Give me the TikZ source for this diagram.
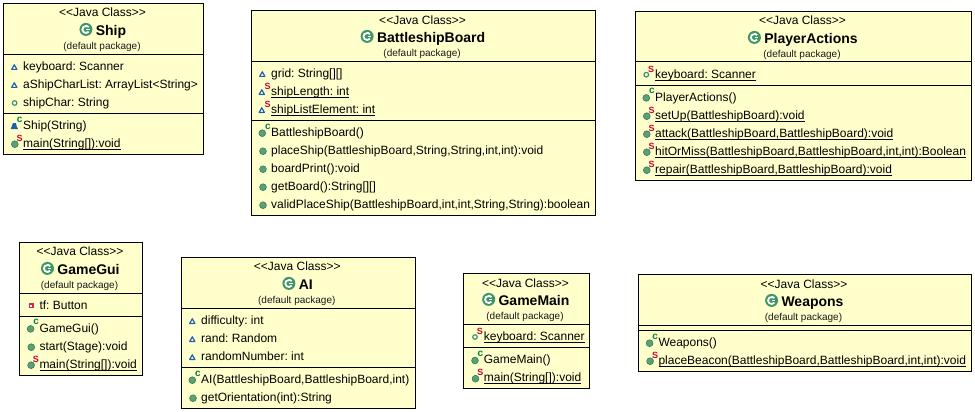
\documentclass[tikz,border=0pt]{standalone}
\usepackage{fontspec}
\setmainfont{Liberation Sans}
\frenchspacing
\definecolor{boxfill}{HTML}{FFFFCC}
\definecolor{ballfill}{HTML}{5E9F78}
\definecolor{balledge}{HTML}{2F7F55}
\definecolor{triblue}{HTML}{1F62A8}
\definecolor{iconred}{HTML}{CC0033}
\definecolor{icongreen}{HTML}{008040}
\definecolor{classgreen}{HTML}{3F9468}
\newcommand\ulin[1]{\setbox0\hbox{#1}\rlap{\rule[-2.4pt]{\wd0}{0.9pt}}\box0}
\tikzset{
  x=1pt,y=-1pt,
  umlbox/.style={draw=black,fill=boxfill,line width=1.1pt},
  umlsep/.style={draw=black,line width=1pt},
  rowtext/.style={anchor=base west,inner sep=0pt,font=\fontsize{12}{14}\selectfont,text=black},
  stereo/.style={anchor=base,inner sep=0pt,font=\fontsize{12}{14}\selectfont,text=black},
  classname/.style={anchor=base,inner sep=0pt,font=\fontsize{14}{16}\selectfont\bfseries},
  pkgtext/.style={anchor=base,inner sep=0pt,font=\fontsize{10}{12}\selectfont,text=black!90},
  supS/.style={anchor=center,inner sep=0pt,font=\fontsize{9}{9}\selectfont\bfseries,text=iconred},
  supC/.style={anchor=center,inner sep=0pt,font=\fontsize{10}{10}\selectfont\bfseries,text=icongreen},
}
% icons, drawn relative to the row's text start and row centre
\newcommand\icBall[1]{\fill[ballfill,draw=balledge,line width=.6pt] (#1,1.2) circle (3.4);}
\newcommand\icM{\icBall{-8}}
\newcommand\icCtor{\icBall{-8.7}\node[supC] at (-3.2,-5.5) {c};}
\newcommand\icSM{\icBall{-8.2}\node[supS] at (-3.3,-5) {S};}
\newcommand\icTri[1]{\draw[triblue,fill=white,line width=1.2pt,line join=round] (#1-2.6,3.4) -- (#1+2.6,3.4) -- (#1,-1.2) -- cycle;}
\newcommand\icPkg{\icTri{-8.7}}
\newcommand\icSPkg{\icTri{-9.2}\node[supS] at (-3.3,-5) {S};}
\newcommand\icRing[1]{\draw[classgreen,fill=white,line width=1.2pt] (#1,1) circle (2.3);}
\newcommand\icPub{\icRing{-8.4}}
\newcommand\icSPub{\icRing{-8.7}\node[supS] at (-3.8,-4.5) {S};}
\newcommand\icPriv{\fill[iconred!85] (-10.5,-1.4) rectangle (-5.5,3.6);\fill[white] (-9,.1) rectangle (-7,2.1);}
\newcommand\icPkgCtor{\fill[triblue,line join=round] (-12.4,4.2) -- (-4.8,4.2) -- (-6.4,1) -- (-7,-1.8) -- (-10.2,-1.8) -- (-11,1) -- cycle;\node[supC] at (-3.4,-5.5) {c};}
% \row{id}{x}{y}{icon}{text}
\newcommand\row[5]{\begin{scope}[shift={(#2,#3)}]#4\node[rowtext] (#1) at (0,4.4) {#5};\end{scope}}
% \classbox{x1}{y1}{x2}{y2}{sep1}{sep2}
\newcommand\classbox[6]{%
  \path[umlbox] (#1,#2) rectangle (#3,#4);
  \draw[umlsep] (#1,#5) -- (#3,#5);
  \draw[umlsep] (#1,#6) -- (#3,#6);
}
\newcommand\classhead[6]{% id, centre x, stereo y, name y, pkg y, Name
  \node[stereo] (#1-st) at (#2-1,#3+4.3) {<{}<Java Class>{}>};
  \node[classname] (#1-nm) at (#2+7.5,#4+5.4) {#6};
  \node[pkgtext] (#1-pk) at (#2-1.5,#5+3.7) {(default package)};
  \begin{scope}[shift={(#1-nm.base west)}]
    \fill[classgreen] (-9.7,-6) circle (6.5);
    \draw[white,line width=1.8pt] (-9.7,-6) ++(40:3.6) arc (40:320:3.6);
    \draw[white,line width=1.3pt] (-9.2,-5.6) -- (-6,-5.6);
  \end{scope}
}
\begin{document}
\begin{tikzpicture}
\useasboundingbox (0,0) rectangle (975,412);
\fill[white] (0,0) rectangle (975,412);
% Ship
\classbox{3.5}{3.5}{203.5}{154.5}{54.5}{113.5}
\classhead{ship}{103.5}{12.5}{30}{46}{Ship}
\row{ship-a1}{23}{66}{\icPkg}{keyboard: Scanner}
\row{ship-a2}{23}{84}{\icPkg}{aShipCharList: ArrayList<String>}
\row{ship-a3}{23}{102}{\icPub}{shipChar: String}
\row{ship-m1}{23}{125}{\icPkgCtor}{Ship(String)}
\row{ship-m2}{23}{143}{\icSM}{\ulin{main(String[]):void}}
% BattleshipBoard
\classbox{251.5}{10.5}{595.5}{215.5}{61.5}{120.5}
\classhead{bb}{423.6}{20}{37}{53}{BattleshipBoard}
\row{bb-a1}{271}{73}{\icPkg}{grid: String[][]}
\row{bb-a2}{271}{91}{\icSPkg}{\ulin{shipLength: int}}
\row{bb-a3}{271}{109}{\icSPkg}{\ulin{shipListElement: int}}
\row{bb-m1}{271}{132}{\icCtor}{BattleshipBoard()}
\row{bb-m2}{271}{150}{\icM}{placeShip(BattleshipBoard,String,String,int,int):void}
\row{bb-m3}{271}{168}{\icM}{boardPrint():void}
\row{bb-m4}{271}{186}{\icM}{getBoard():String[][]}
\row{bb-m5}{271}{204}{\icM}{validPlaceShip(BattleshipBoard,int,int,String,String):boolean}
% PlayerActions
\classbox{635.5}{11.5}{971.5}{180.5}{61.5}{85.5}
\classhead{pa}{803.5}{20.3}{38}{54}{PlayerActions}
\row{pa-a1}{655}{73.7}{\icSPub}{\ulin{keyboard: Scanner}}
\row{pa-m1}{655}{96.7}{\icCtor}{PlayerActions()}
\row{pa-m2}{655}{115}{\icSM}{\ulin{setUp(BattleshipBoard):void}}
\row{pa-m3}{655}{133}{\icSM}{\ulin{attack(BattleshipBoard,BattleshipBoard):void}}
\row{pa-m4}{655}{151}{\icSM}{\ulin{hitOrMiss(BattleshipBoard,BattleshipBoard,int,int):Boolean}}
\row{pa-m5}{655}{169}{\icSM}{\ulin{repair(BattleshipBoard,BattleshipBoard):void}}
% GameGui
\classbox{19.5}{242.5}{142.5}{375.5}{293.5}{316.5}
\classhead{gg}{81}{251.3}{269}{285}{GameGui}
\row{gg-a1}{39.3}{304.7}{\icPriv}{tf: Button}
\row{gg-m1}{39.3}{327.7}{\icCtor}{GameGui()}
\row{gg-m2}{39.3}{346}{\icM}{start(Stage):void}
\row{gg-m3}{39.3}{364}{\icSM}{\ulin{main(String[]):void}}
% AI
\classbox{181.5}{257.5}{415.5}{408.5}{308.5}{367.5}
\classhead{ai}{298.3}{266.5}{284}{300}{AI}
\row{ai-a1}{201}{320}{\icPkg}{difficulty: int}
\row{ai-a2}{201}{338}{\icPkg}{rand: Random}
\row{ai-a3}{201}{356}{\icPkg}{randomNumber: int}
\row{ai-m1}{201}{379}{\icCtor}{AI(BattleshipBoard,BattleshipBoard,int)}
\row{ai-m2}{201}{397}{\icM}{getOrientation(int):String}
% GameMain
\classbox{463.5}{273.5}{589.5}{388.5}{324.5}{347.5}
\classhead{gm}{526.5}{283}{300}{316}{GameMain}
\row{gm-a1}{483.7}{336}{\icSPub}{\ulin{keyboard: Scanner}}
\row{gm-m1}{483.7}{359.3}{\icCtor}{GameMain()}
\row{gm-m2}{483.7}{377.5}{\icSM}{\ulin{main(String[]):void}}
% Weapons
\classbox{638.5}{274.5}{971.5}{371.5}{325.5}{330.5}
\classhead{we}{805}{284}{301}{317}{Weapons}
\row{we-m1}{658.3}{342}{\icCtor}{Weapons()}
\row{we-m2}{658.3}{360}{\icSM}{\ulin{placeBeacon(BattleshipBoard,BattleshipBoard,int,int):void}}
\end{tikzpicture}
\end{document}
